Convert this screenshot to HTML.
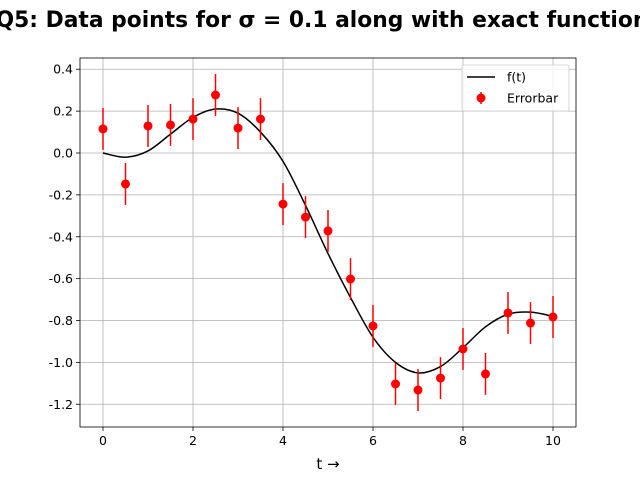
<!DOCTYPE html>
<html><head><meta charset="utf-8"><style>
html,body{margin:0;padding:0;background:#fff;overflow:hidden}
svg text{font-family:"DejaVu Sans","Liberation Sans",sans-serif}
</style></head><body>
<svg id="c" width="640" height="480" xmlns="http://www.w3.org/2000/svg"></svg>
<script>
const tVals=[0,0.5,1,1.5,2,2.5,3,3.5,4,4.5,5,5.5,6,6.5,7,7.5,8,8.5,9,9.5,10];
const dataY=[0.115,-0.148,0.129,0.134,0.162,0.277,0.119,0.162,-0.244,-0.306,-0.372,-0.602,-0.826,-1.103,-1.132,-1.075,-0.936,-1.055,-0.764,-0.812,-0.783];
const errVals=[0.1,0.1,0.1,0.1,0.1,0.1,0.1,0.1,0.1,0.1,0.1,0.1,0.1,0.1,0.1,0.1,0.1,0.1,0.1,0.1,0.1];
const curveY=[0,-0.02,0.01,0.09,0.17,0.21,0.19,0.10,-0.04,-0.25,-0.48,-0.69,-0.88,-1.00,-1.05,-1.02,-0.93,-0.83,-0.77,-0.76,-0.78];
const xTicks=[0,2,4,6,8,10];
const yTicks=[0.4,0.2,0.0,-0.2,-0.4,-0.6,-0.8,-1.0,-1.2];
const NS="http://www.w3.org/2000/svg";
const svg=document.getElementById('c');
const L=80,R=576,T=58,B=427;
const X=t=>103+t*45;
const Y=v=>153-v*209.4;
function el(tag,a,parent){const e=document.createElementNS(NS,tag);for(const k in a)e.setAttribute(k,a[k]);(parent||svg).appendChild(e);return e;}
xTicks.forEach(t=>{
  const g=el('line',{x1:X(t),x2:X(t),y1:T,y2:B,stroke:'#b0b0b0','stroke-width':0.8});
  
  
  el('line',{x1:X(t),x2:X(t),y1:B,y2:B+4,stroke:'#000','stroke-width':0.8});
  const tx=el('text',{x:X(t),y:B+18,'font-size':12.5,'text-anchor':'middle'});tx.textContent=t;
  
  
});
yTicks.forEach(v=>{
  const g=el('line',{x1:L,x2:R,y1:Y(v),y2:Y(v),stroke:'#b0b0b0','stroke-width':0.8});
  
  
  el('line',{x1:L-4,x2:L,y1:Y(v),y2:Y(v),stroke:'#000','stroke-width':0.8});
  const tx=el('text',{x:L-7,y:Y(v)+4.5,'font-size':12.5,'text-anchor':'end'});tx.textContent=v.toFixed(1);
  
  
});
const pts=tVals.map((t,i)=>[X(t),Y(curveY[i])]);
let d=`M${pts[0][0]},${pts[0][1]}`;
for(let i=0;i<pts.length-1;i++){
  const p0=pts[Math.max(0,i-1)],p1=pts[i],p2=pts[i+1],p3=pts[Math.min(pts.length-1,i+2)];
  d+=` C${p1[0]+(p2[0]-p0[0])/6},${p1[1]+(p2[1]-p0[1])/6} ${p2[0]-(p3[0]-p1[0])/6},${p2[1]-(p3[1]-p1[1])/6} ${p2[0]},${p2[1]}`;
}
const cv=el('path',{d:d,fill:'none',stroke:'#000','stroke-width':1.5});


tVals.forEach((t,i)=>{
  const ln=el('line',{x1:X(t),x2:X(t),y1:Y(dataY[i]+errVals[i]),y2:Y(dataY[i]-errVals[i]),stroke:'#ff0000','stroke-width':1.5});
  
  
  const c=el('circle',{cx:X(t),cy:Y(dataY[i]),r:4.5,fill:'#ff0000'});
  
  
});
const fr=el('rect',{x:L,y:T,width:R-L,height:B-T,fill:'none',stroke:'#000','stroke-width':0.8});


const lg=el('g',{});


el('rect',{x:462,y:65,width:107,height:46,rx:2,fill:'#fff','fill-opacity':0.8,stroke:'#ccc','stroke-width':0.8},lg);
el('line',{x1:467,x2:495,y1:77,y2:77,stroke:'#000','stroke-width':1.5},lg);
const l1=el('text',{x:507,y:81.5,'font-size':12.5},lg);l1.textContent='f(t)';


el('line',{x1:481,x2:481,y1:92,y2:104,stroke:'#ff0000','stroke-width':1.5},lg);
el('circle',{cx:481,cy:98,r:4.5,fill:'#ff0000'},lg);
const l2=el('text',{x:507,y:102.5,'font-size':12.5},lg);l2.textContent='Errorbar';


const ti=el('text',{x:322,y:27,'font-size':21.8,'font-weight':'bold','text-anchor':'middle'});
ti.textContent='Q5: Data points for σ = 0.1 along with exact function';


const xt=el('text',{x:328,y:469,'font-size':15,'text-anchor':'middle'});
xt.textContent='t →';


</script>
</body></html>
